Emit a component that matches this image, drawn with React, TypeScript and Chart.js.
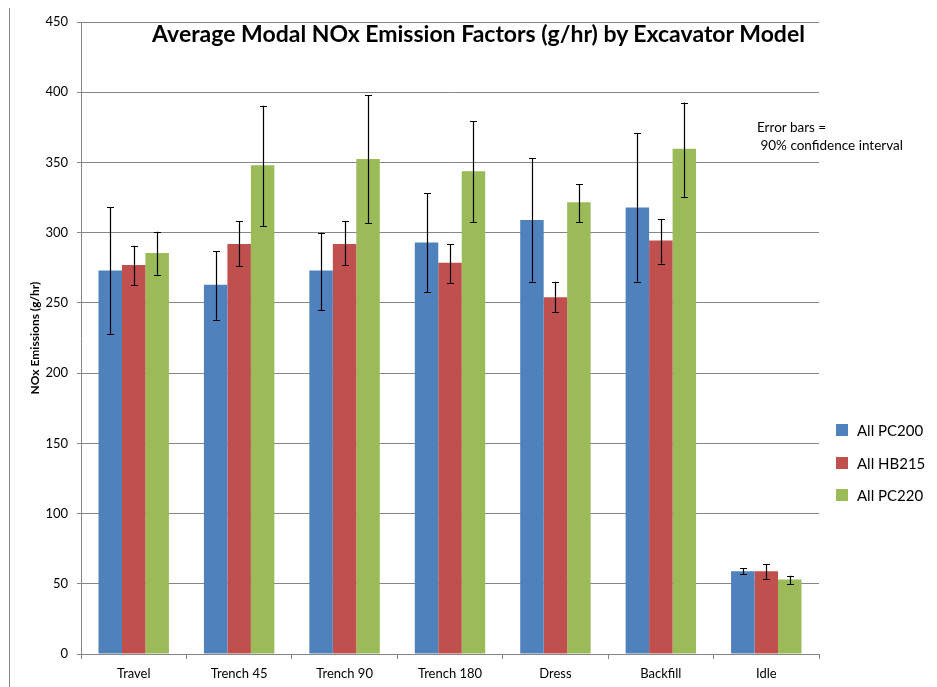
import React, { useEffect, useRef } from 'react';
import { Chart, registerables } from 'chart.js';

Chart.register(...registerables);

const categories = ['Travel', 'Trench 45', 'Trench 90', 'Trench 180', 'Dress', 'Backfill', 'Idle'];
const seriesNames = ['All PC200', 'All HB215', 'All PC220'];
const seriesColors = ['#4F81BD', '#C0504D', '#9BBB59'];

const pc200 = [273, 263, 273, 293, 309, 318, 59];
const pc200Low = [228, 238, 245, 257.5, 265, 265, 56.7];
const pc200High = [318, 287, 300, 328, 353, 371, 61];

const hb215 = [277, 292, 292, 278.5, 254, 294.5, 59];
const hb215Low = [262.7, 276, 277, 264, 243.5, 278, 53.4];
const hb215High = [290.7, 308, 308, 292, 265, 309.7, 64];

const pc220 = [285.5, 348, 352.5, 343.7, 321.6, 359.8, 53];
const pc220Low = [270, 304.5, 306.7, 307.4, 307.4, 325.6, 49.6];
const pc220High = [300.7, 390.4, 397.8, 379.5, 334.7, 392.6, 55.8];

const yMin = 0;
const yMax = 450;
const yStep = 50;

const titleText = 'Average Modal NOx Emission Factors (g/hr) by Excavator Model';
const yAxisTitle = 'NOx Emissions (g/hr)';
const noteLine1 = 'Error bars =';
const noteLine2 = ' 90% confidence interval';

const seriesValues = [pc200, hb215, pc220];
const seriesLow = [pc200Low, hb215Low, pc220Low];
const seriesHigh = [pc200High, hb215High, pc220High];

const errorBarPlugin = {
  id: 'errorBars',
  afterDatasetsDraw(chart: any) {
    const ctx = chart.ctx;
    const y = chart.scales.y;
    ctx.save();
    ctx.strokeStyle = '#000';
    ctx.lineWidth = 1.2;
    chart.data.datasets.forEach((_ds: any, i: number) => {
      const meta = chart.getDatasetMeta(i);
      meta.data.forEach((bar: any, j: number) => {
        const lo = y.getPixelForValue(seriesLow[i][j]);
        const hi = y.getPixelForValue(seriesHigh[i][j]);
        const x = Math.round(bar.x) + 0.5;
        const cap = 3.5;
        ctx.beginPath();
        ctx.moveTo(x, hi);
        ctx.lineTo(x, lo);
        ctx.moveTo(x - cap, Math.round(hi) + 0.5);
        ctx.lineTo(x + cap, Math.round(hi) + 0.5);
        ctx.moveTo(x - cap, Math.round(lo) + 0.5);
        ctx.lineTo(x + cap, Math.round(lo) + 0.5);
        ctx.stroke();
      });
    });
    ctx.restore();
  },
};

export default function App() {
  const canvasRef = useRef<HTMLCanvasElement | null>(null);

  useEffect(() => {
    if (!canvasRef.current) return;
    Chart.defaults.font.family = 'Lato';
    Chart.defaults.color = '#000';
    const chart = new Chart(canvasRef.current, {
      type: 'bar',
      data: {
        labels: categories,
        datasets: seriesNames.map((name, i) => ({
          label: name,
          data: seriesValues[i],
          backgroundColor: seriesColors[i],
          borderWidth: 0,
          categoryPercentage: 0.668,
          barPercentage: 1,
        })),
      },
      options: {
        animation: false,
        responsive: false,
        layout: { padding: { top: 14, right: 118, bottom: 0, left: 0 } },
        plugins: {
          legend: { display: false },
          tooltip: { enabled: false },
          title: { display: false },
        },
        scales: {
          x: {
            afterFit: (s: any) => {
              s.height = 33;
            },
            grid: {
              display: true,
              drawOnChartArea: false,
              drawTicks: true,
              tickLength: 5,
              color: '#868686',
              offset: true,
            },
            border: { color: '#868686' },
            ticks: { font: { size: 13, family: 'Lato' }, color: '#000', padding: 7 },
          },
          y: {
            min: yMin,
            max: yMax,
            afterFit: (s: any) => {
              s.width = 71;
              s.paddingTop = 0;
              s.paddingBottom = 0;
            },
            grid: { color: '#868686', tickLength: 4, drawTicks: true },
            border: { color: '#868686' },
            ticks: { stepSize: yStep, font: { size: 13, family: 'Lato' }, color: '#000', padding: 9 },
            title: {
              display: true,
              text: yAxisTitle,
              font: { size: 12, weight: 'bold', family: 'Lato' },
              color: '#000',
              padding: { top: 18, bottom: 0 },
            },
          },
        },
      },
      plugins: [errorBarPlugin],
    } as any);
    return () => chart.destroy();
  }, []);

  return (
    <div
      style={{
        position: 'relative',
        width: 928,
        height: 680,
        marginLeft: 1,
        marginTop: -1,
        borderLeft: '1px solid #868686',
        borderTop: '1px solid #868686',
        boxSizing: 'border-box',
        fontFamily: 'Lato',
        color: '#000',
      }}
    >
      <canvas ref={canvasRef} width={927} height={679} style={{ position: 'absolute', left: 0, top: 0 }} />
      <div
        style={{
          position: 'absolute',
          left: 468.5,
          top: 11.6,
          transform: 'translateX(-50%)',
          whiteSpace: 'nowrap',
          fontSize: 23,
          lineHeight: '27px',
          fontWeight: 'bold',
        }}
      >
        {titleText}
      </div>
      <div
        style={{
          position: 'absolute',
          left: 747,
          top: 110,
          whiteSpace: 'pre',
          fontSize: 13.5,
          lineHeight: '18px',
        }}
      >
        <div>{noteLine1}</div>
        <div>{noteLine2}</div>
      </div>
      <div style={{ position: 'absolute', left: 826, top: 406 }}>
        {seriesNames.map((name, i) => (
          <div key={name} style={{ display: 'flex', alignItems: 'center', height: 32.5, fontSize: 15 }}>
            <span style={{ display: 'inline-block', width: 12, height: 12, background: seriesColors[i], marginRight: 9 }} />
            <span>{name}</span>
          </div>
        ))}
      </div>
    </div>
  );
}
